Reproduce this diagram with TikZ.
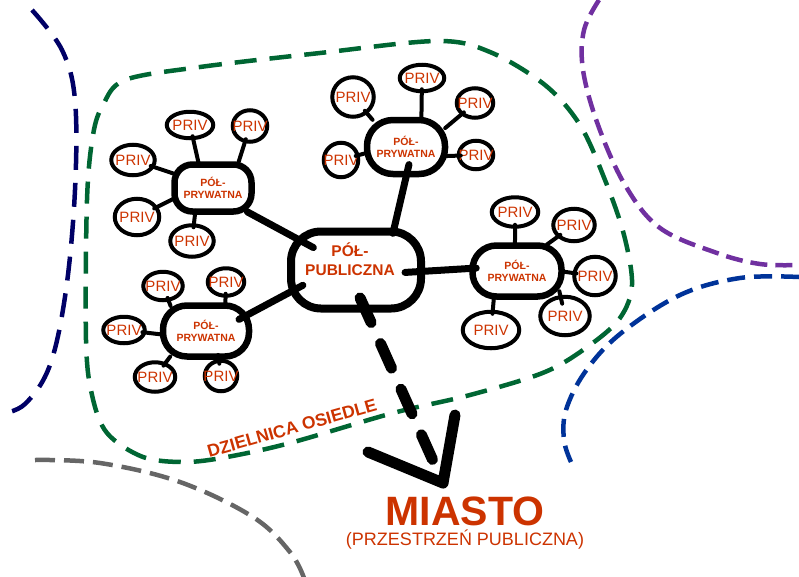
\documentclass[tikz,border=0pt]{standalone}
\usepackage{fontspec}
\setmainfont{Liberation Sans}
\usetikzlibrary{shapes.geometric}
\definecolor{txtred}{RGB}{204,51,0}
\definecolor{navyc}{RGB}{0,0,102}
\definecolor{dgreen}{RGB}{0,102,51}
\definecolor{purplec}{RGB}{112,48,160}
\definecolor{bluec}{RGB}{0,51,153}
\definecolor{grayc}{RGB}{102,102,102}
\newcommand\privlbl{\makebox[0pt]{PRIV}}
\begin{document}
\begin{tikzpicture}[x=1pt,y=-1pt,
  priv/.style={ellipse, draw, line width=4pt, inner sep=0pt, text=txtred,
    font=\fontsize{15pt}{15pt}\selectfont},
  semi/.style={rectangle, draw, line width=6.5pt, inner sep=0pt, align=center, text=txtred,
    font=\bfseries\fontsize{10.5pt}{12pt}\selectfont},
  spoke/.style={line width=4pt, line cap=round, shorten <=-4pt, shorten >=-4pt},
  conn/.style={line width=7pt, line cap=round},
  bound/.style={line width=4.5pt},
  shaft/.style={line width=11pt, line cap=round, dash pattern=on 27pt off 23pt},
  head/.style={line width=11pt, line cap=round, line join=round},
]
\useasboundingbox (0,0) rectangle (799,576);

% boundaries
\draw[bound, navyc, dash pattern=on 24pt off 13pt] plot[smooth, tension=0.6] coordinates
  {(32,10) (62,50) (75,100) (75,190) (66,290) (50,365) (25,404) (0,414)};
\draw[bound, purplec, dash pattern=on 17pt off 8pt] plot[smooth, tension=0.6] coordinates
  {(599,0) (584,30) (583,70) (598,125) (625,185) (660,228) (717,253) (760,264) (799,265)};
\draw[bound, bluec, dash pattern=on 18pt off 9pt] plot[smooth, tension=0.6] coordinates
  {(799,277) (740,278) (680,295) (620,334) (585,372) (566,410) (564,440) (571,462)};
\draw[bound, grayc, dash pattern=on 20pt off 9pt] plot[smooth, tension=0.6] coordinates
  {(35,460) (100,463) (180,482) (253,517) (290,552) (304,578)};
\draw[bound, dgreen, dash pattern=on 22pt off 13pt] plot[smooth cycle, tension=0.55] coordinates
  {(125,80) (200,67) (320,53) (437,41) (490,52) (545,85) (580,125) (605,180) (624,235)
   (632,285) (620,318) (590,345) (545,372) (470,395) (393,413) (290,443) (227,457)
   (185,462) (143,457) (107,433) (92,395) (86,340) (87,200) (93,135) (103,105)};

\node[rotate=15.8, text=txtred, font=\bfseries\fontsize{17.5pt}{17.5pt}\selectfont] (dz) at (292,428) {DZIELNICA OSIEDLE};

% central node
\node[draw, line width=8pt, minimum width=130pt, minimum height=77pt, rounded corners=30pt, inner sep=0pt,
  label={[text=txtred, align=center, font=\bfseries\fontsize{15.5pt}{19pt}\selectfont, xshift=-6pt, yshift=10.5pt]center:{PÓŁ-\\PUBLICZNA}}]
  (c) at (356,270) {};

% semi-private nodes
\node[semi, minimum width=77pt, minimum height=47pt, rounded corners=18pt] (b1) at (213,188) {PÓŁ-\\PRYWATNA};
\node[semi, minimum width=78pt, minimum height=54pt, rounded corners=26pt] (b2) at (406,147) {PÓŁ-\\PRYWATNA};
\node[semi, minimum width=89pt, minimum height=51pt, rounded corners=24pt] (b3) at (517,271) {PÓŁ-\\PRYWATNA};
\node[semi, minimum width=86pt, minimum height=51pt, rounded corners=24pt] (b4) at (206,331) {PÓŁ-\\PRYWATNA};

% PRIV nodes, upper-left cluster
\node[priv, minimum width=46.5pt, minimum height=26.5pt] (p11) at (190,125) {\privlbl};
\node[priv, minimum width=34.5pt, minimum height=31.5pt] (p12) at (250,126) {\privlbl};
\node[priv, minimum width=43.5pt, minimum height=30.5pt] (p13) at (133,160) {\privlbl};
\node[priv, minimum width=44.5pt, minimum height=36.5pt] (p14) at (137,217) {\privlbl};
\node[priv, minimum width=43.5pt, minimum height=31.5pt] (p15) at (192,241) {\privlbl};
% top cluster
\node[priv, minimum width=41.5pt, minimum height=39.5pt] (p21) at (353,97) {\privlbl};
\node[priv, minimum width=44.5pt, minimum height=26.5pt] (p22) at (422,78) {\privlbl};
\node[priv, minimum width=36.5pt, minimum height=29.5pt] (p23) at (475,103) {\privlbl};
\node[priv, minimum width=34.5pt, minimum height=28.5pt] (p24) at (476,155) {\privlbl};
\node[priv, minimum width=34.5pt, minimum height=34.5pt] (p25) at (341,160) {\privlbl};
% right cluster
\node[priv, minimum width=46.5pt, minimum height=29.5pt] (p31) at (515,212) {\privlbl};
\node[priv, minimum width=41.5pt, minimum height=32.5pt] (p32) at (574,225) {\privlbl};
\node[priv, minimum width=41.5pt, minimum height=38.5pt] (p33) at (595,276) {\privlbl};
\node[priv, minimum width=49.5pt, minimum height=38.5pt] (p34) at (565,316) {\privlbl};
\node[priv, minimum width=56.5pt, minimum height=36.5pt] (p35) at (491,330) {\privlbl};
% lower-left cluster
\node[priv, minimum width=39.5pt, minimum height=28.5pt] (p41) at (163,286) {\privlbl};
\node[priv, minimum width=36.5pt, minimum height=27.5pt] (p42) at (226,282) {\privlbl};
\node[priv, minimum width=41.5pt, minimum height=26.5pt] (p43) at (124,330) {\privlbl};
\node[priv, minimum width=40.5pt, minimum height=29.5pt] (p44) at (155,377) {\privlbl};
\node[priv, minimum width=32.5pt, minimum height=30.5pt] (p45) at (221,376) {\privlbl};

% spokes
\draw[spoke] (p11) -- (b1.119);
\draw[spoke] (p12) -- (b1.46);
\draw[spoke] (p13) -- (b1.160);
\draw[spoke] (p14) -- (b1.196);
\draw[spoke] (p15) -- (b1.236);
\draw[spoke] (p21) -- (b2.140);
\draw[spoke] (p22) -- (b2.63);
\draw[spoke] (p23) -- (b2.27);
\draw[spoke] (p24) -- (b2.348);
\draw[spoke] (p25) -- (b2.189);
\draw[spoke] (p31) -- (b3.94);
\draw[spoke] (p32) -- (b3.41);
\draw[spoke] (p33) -- (b3.359);
\draw[spoke] (p34) -- (b3.327);
\draw[spoke] (p35) -- (b3.231);
\draw[spoke] (p41) -- (b4.142);
\draw[spoke] (p42) -- (b4.56);
\draw[spoke] (p43) -- (b4.184);
\draw[spoke] (p44) -- (b4.217);
\draw[spoke] (p45) -- (b4.294);

% connectors to the central node
\draw[conn, shorten <=-6pt, shorten >=-30pt] (b1.326) -- (c.152);
\draw[conn, shorten <=-15pt, shorten >=-18pt] (b4.22) -- (c.199);
\draw[conn, shorten <=-13pt, shorten >=-6pt] (b2.270) -- (c.48);
\draw[conn, shorten <=-7pt, shorten >=-20pt] (b3.177) -- (c.359);

% arrow to the city
\coordinate (tip) at (443,483);
\coordinate (hl) at (368,452);
\coordinate (hr) at (455,415);
\draw[shaft, shorten <=-16pt] (c.-76) -- (tip);
\draw[head] (hl) -- (tip) -- (hr);

\node[text=txtred, font=\bfseries\fontsize{41pt}{41pt}\selectfont] (mi) at (465,511) {MIASTO};
\node[text=txtred, font=\fontsize{18pt}{18pt}\selectfont] (pp) at (465,540) {(PRZESTRZEŃ PUBLICZNA)};
\end{tikzpicture}
\end{document}
